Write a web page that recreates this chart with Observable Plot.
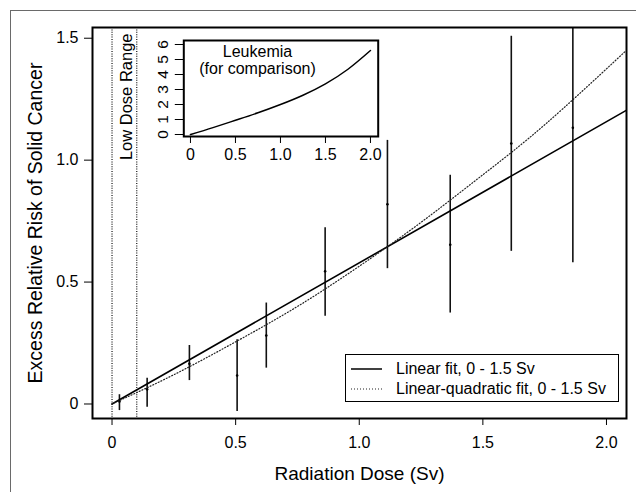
<!DOCTYPE html>
<html>
<head>
<meta charset="utf-8">
<script src="https://cdn.jsdelivr.net/npm/d3@7"></script>
<script src="https://cdn.jsdelivr.net/npm/@observablehq/plot@0.6"></script>
<style>
  html, body { margin: 0; padding: 0; background: white; }
  #wrap { position: relative; width: 636px; height: 492px; overflow: hidden; background: white;
          font-family: Arial, "Liberation Sans", sans-serif; }
  #outer { position: absolute; left: 10px; top: 10px; width: 700px; height: 600px; border: 1px solid #6a6a6a; }
  #legend { position: absolute; left: 345px; top: 354px; width: 272px; height: 46px; border: 1.5px solid black;
            background: white; font-size: 16px; color: black; }
  .row { position: absolute; left: 0; height: 20px; display: flex; align-items: center; }
  .row svg { position: absolute; left: 5px; top: 0; }
  .row span { position: absolute; left: 50px; white-space: nowrap; line-height: 20px; top: 0; }
</style>
</head>
<body>
<div id="wrap">
  <div id="outer"></div>
  <div id="legend">
    <div class="row" style="top:4px"><svg width="32" height="20"><line x1="0" x2="31" y1="10" y2="10" stroke="black" stroke-width="1.5"/></svg><span>Linear fit, 0 - 1.5 Sv</span></div>
    <div class="row" style="top:24px"><svg width="32" height="20"><line x1="0" x2="31" y1="10" y2="10" stroke="#222" stroke-width="1.2" stroke-dasharray="1,2"/></svg><span>Linear-quadratic fit, 0 - 1.5 Sv</span></div>
  </div>
</div>
<script>
// ---- data ----
const doses   = [0.030, 0.142, 0.313, 0.506, 0.624, 0.862, 1.114, 1.368, 1.615, 1.864];
const errEst  = [0.010, 0.060, 0.165, 0.117, 0.281, 0.544, 0.819, 0.653, 1.068, 1.133];
const errLow  = [-0.027, -0.013, 0.096, -0.031, 0.147, 0.360, 0.555, 0.373, 0.626, 0.579];
const errHigh = [0.038, 0.106, 0.240, 0.263, 0.414, 0.723, 1.081, 0.938, 1.508, 1.540];

const linDose = [0, 2.08];
const linERR  = [0, 1.204];

const lqDose = [0, 0.25, 0.5, 0.75, 1.0, 1.25, 1.5, 1.75, 2.075];
const lqERR  = [0, 0.12, 0.255, 0.40, 0.565, 0.745, 0.94, 1.145, 1.445];

const leukDose = [0, 0.25, 0.5, 0.75, 1.0, 1.25, 1.5, 1.75, 2.0];
const leukERR  = [0, 0.46, 0.95, 1.45, 2.0, 2.62, 3.38, 4.35, 5.6];

const lowDoseBounds = [0, 0.1];
const xTicks = [0, 0.5, 1, 1.5, 2];
const yTicks = [0, 0.5, 1, 1.5];
const insetXTicks = [0, 0.5, 1, 1.5, 2];
const insetYTicks = [0, 1, 2, 3, 4, 5, 6];
const insetLabels = ["Leukemia", "(for comparison)"];
const insetLabelY = [5.15, 4.03];

// ---- tables ----
const pts = doses.map((d, i) => ({dose: d, err: errEst[i], lo: errLow[i], hi: errHigh[i]}));
const lin = linDose.map((d, i) => ({dose: d, err: linERR[i]}));
const lq = lqDose.map((d, i) => ({dose: d, err: lqERR[i]}));
const leuk = leukDose.map((d, i) => ({dose: d, err: leukERR[i]}));
const insetText = insetLabels.map((t, i) => ({t, y: insetLabelY[i]}));

const fmt = d => d === 0 ? "0" : d.toFixed(1);
const FONT = 'Arial, "Liberation Sans", sans-serif';

const main = Plot.plot({
  width: 636, height: 492,
  marginLeft: 92, marginRight: 10, marginTop: 27, marginBottom: 74,
  x: {domain: [-0.079, 2.081]},
  y: {domain: [-0.0595, 1.544]},
  style: {fontFamily: FONT, fontSize: "16px", background: "transparent", color: "black", overflow: "visible"},
  marks: [
    Plot.ruleX(lowDoseBounds, {stroke: "#111", strokeWidth: 1.2, strokeDasharray: "1,1.4"}),
    Plot.text(["Low Dose Range"], {x: (lowDoseBounds[0] + lowDoseBounds[1]) / 2, frameAnchor: "top", dy: 6, dx: 8,
      rotate: -90, textAnchor: "end", lineAnchor: "bottom", fontSize: 16.5}),
    Plot.ruleX(pts, {x: "dose", y1: "lo", y2: "hi", stroke: "#111", strokeWidth: 1.6}),
    Plot.dot(pts, {x: "dose", y: "err", r: 1.3, fill: "black", stroke: null}),
    Plot.line(lin, {x: "dose", y: "err", stroke: "black", strokeWidth: 1.6}),
    Plot.line(lq, {x: "dose", y: "err", stroke: "#222", strokeWidth: 1.2, strokeDasharray: "1,2", curve: "natural"}),
    Plot.frame({stroke: "black", strokeWidth: 2}),
    Plot.axisX({ticks: xTicks, tickFormat: fmt, tickSize: 7, tickPadding: 11, label: null, fontSize: 16}),
    Plot.axisY({ticks: yTicks, tickFormat: fmt, tickSize: 8, tickPadding: 6, label: null, fontSize: 16}),
    Plot.text(["Radiation Dose (Sv)"], {frameAnchor: "bottom", dy: 61.3, textAnchor: "middle", lineAnchor: "bottom", fontSize: 19}),
    Plot.text(["Excess Relative Risk of Solid Cancer"], {frameAnchor: "left", dx: -51, rotate: -90, textAnchor: "middle", lineAnchor: "bottom", fontSize: 19.5})
  ]
});
main.style.position = "absolute";
main.style.left = "0px";
main.style.top = "0px";

const inset = Plot.plot({
  width: 250, height: 150,
  marginLeft: 43.3, marginRight: 12.3, marginTop: 20, marginBottom: 34,
  x: {domain: [-0.074, 2.086]},
  y: {domain: [-0.133, 6.267]},
  style: {fontFamily: FONT, fontSize: "16px", background: "transparent", color: "black", overflow: "visible"},
  marks: [
    Plot.frame({fill: "white", stroke: "none"}),
    Plot.axisX({ticks: insetXTicks, tickFormat: fmt, tickSize: 7, tickPadding: 5, label: null, fontSize: 16}),
    Plot.axisY({ticks: insetYTicks, tickFormat: d => String(d), tickSize: 8.5, tickPadding: 7.6, tickRotate: -90,
      textAnchor: "middle", lineAnchor: "bottom", label: null, fontSize: 15.5}),
    Plot.line(leuk, {x: "dose", y: "err", stroke: "black", strokeWidth: 1.5, curve: "natural"}),
    Plot.text(insetText, {x: 0.745, y: "y", text: "t", lineAnchor: "bottom", fontSize: 16}),
    Plot.frame({stroke: "black", strokeWidth: 2})
  ]
});
inset.style.position = "absolute";
inset.style.left = "140px";
inset.style.top = "20px";

const wrap = document.getElementById("wrap");
wrap.insertBefore(main, document.getElementById("legend"));
wrap.insertBefore(inset, document.getElementById("legend"));
</script>
</body>
</html>
